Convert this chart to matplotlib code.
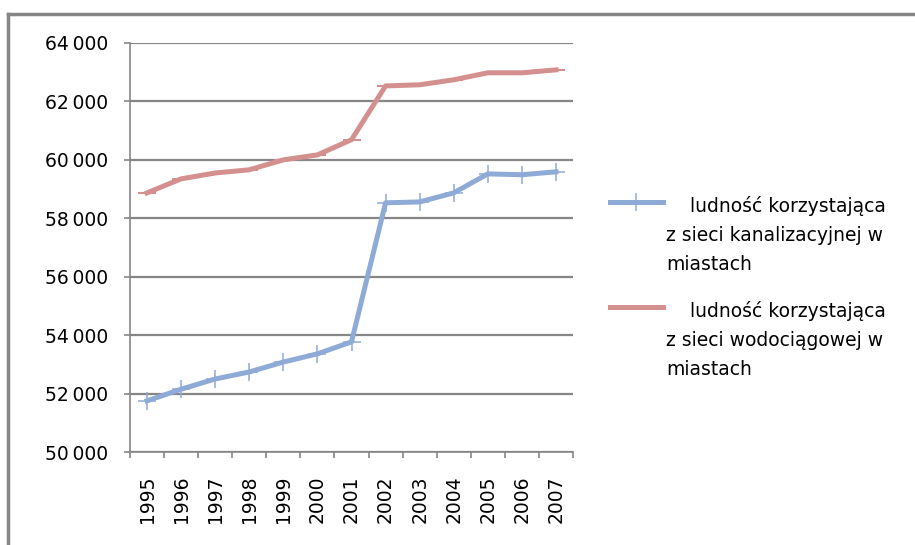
import matplotlib
matplotlib.use("Agg")
import matplotlib.pyplot as plt
from matplotlib.lines import Line2D

# dane
lata = ["1995", "1996", "1997", "1998", "1999", "2000", "2001",
        "2002", "2003", "2004", "2005", "2006", "2007"]
kanalizacja = [51750, 52150, 52500, 52740, 53080, 53360, 53770,
               58530, 58560, 58870, 59520, 59490, 59590]
wodociagi = [58870, 59350, 59550, 59660, 60000, 60170, 60690,
             62530, 62570, 62740, 62980, 62980, 63080]
etykiety = ["ludność korzystająca\nz sieci kanalizacyjnej w\nmiastach",
            "ludność korzystająca\nz sieci wodociągowej w\nmiastach"]
y_ticks = [50000, 52000, 54000, 56000, 58000, 60000, 62000, 64000]

plt.rcParams['font.family'] = ['DejaVu Sans']
niebieski = '#8eaad6'
czerwony = '#d3908f'
szary = '#868686'
rozmiar = 13.5

fig = plt.figure(figsize=(9.15, 5.45), dpi=100)
ax = fig.add_axes([130/915, 1-452/545, 443/915, 409/545])

x = list(range(len(lata)))
ax.plot(x, kanalizacja, color=niebieski, lw=3.6, marker='+', ms=13, mew=1.1,
        solid_joinstyle='round', zorder=3)
ax.plot(x, wodociagi, color=czerwony, lw=3.6, marker='_', ms=13, mew=1.5,
        solid_joinstyle='round', zorder=3)

ax.set_xlim(-0.5, len(lata) - 0.5)
ax.set_ylim(50000, 64000)
ax.set_yticks(y_ticks)
ax.set_yticklabels([f"{v // 1000}\u2009000" for v in y_ticks], fontsize=rozmiar)
ax.set_xticks(x)
ax.set_xticklabels(lata, rotation=90, fontsize=rozmiar)
ax.set_xticks([i - 0.5 for i in range(len(lata) + 1)], minor=True)
ax.tick_params(axis='x', which='major', length=0, pad=17)
ax.tick_params(axis='x', which='minor', length=4, color=szary, width=1.2)
ax.tick_params(axis='y', length=4, color=szary, width=1.2, pad=12)

ax.grid(axis='y', color=szary, lw=1.6)
ax.set_axisbelow(True)
for s in ['top', 'right']:
    ax.spines[s].set_visible(False)
for s in ['left', 'bottom']:
    ax.spines[s].set_color(szary)
    ax.spines[s].set_linewidth(1.2)

# legenda rysowana recznie
for i, (kol, mk, tekst) in enumerate(zip([niebieski, czerwony], ['+', '_'], etykiety)):
    y0 = 1 - (202 + i * 105) / 545
    fig.add_artist(Line2D([610/915, 663/915], [y0, y0], color=kol, lw=3.6,
                          transform=fig.transFigure))
    if mk == '+':
        fig.add_artist(Line2D([636/915], [y0], color=kol, marker='+', ms=13,
                              mew=1.1, transform=fig.transFigure))
    fig.text(666/915, y0 + 6/545, "    " + tekst, fontsize=rozmiar, va='top',
             ha='left', linespacing=1.68)

# ramka wykresu
fig.add_artist(Line2D([8/915, 1], [1-14/545, 1-14/545], color=szary, lw=2.5,
                      transform=fig.transFigure))
fig.add_artist(Line2D([8/915, 8/915], [0, 1-14/545], color=szary, lw=2.5,
                      transform=fig.transFigure))

fig.savefig('out.png', dpi=100)
